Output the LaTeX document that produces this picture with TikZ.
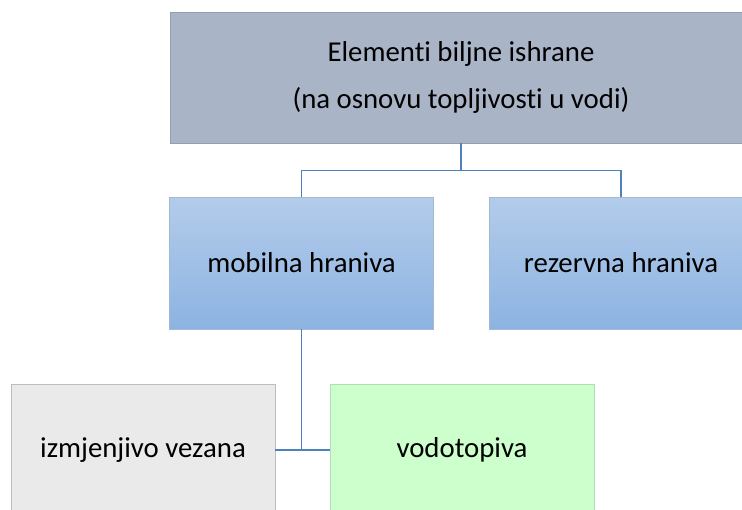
\documentclass[tikz,border=0pt]{standalone}
\usepackage{fontspec}
\setmainfont{Carlito}[RawFeature=-liga]
\usepackage{tikz}
\definecolor{topfill}{HTML}{AAB4C7}
\definecolor{topline}{HTML}{939EB2}
\definecolor{bluetop}{HTML}{B3CCEA}
\definecolor{bluebot}{HTML}{8DB3E2}
\definecolor{blueline}{HTML}{A3B9D3}
\definecolor{grayfill}{HTML}{EAEAEA}
\definecolor{grayline}{HTML}{BDBDBD}
\definecolor{greenfill}{HTML}{CCFFCC}
\definecolor{greenline}{HTML}{B5DDB5}
\definecolor{linkcol}{HTML}{4F81BD}
\tikzset{
 box/.style={minimum width=198pt, minimum height=99pt, inner sep=0pt, align=center,
  font=\fontsize{21.6}{35.5}\selectfont},
 topbox/.style={box, fill=topfill, draw=topline, minimum width=436.5pt, minimum height=98.25pt},
 bluebox/.style={box, top color=bluetop, bottom color=bluebot, draw=blueline},
 graybox/.style={box, fill=grayfill, draw=grayline},
 greenbox/.style={box, fill=greenfill, draw=greenline},
 link/.style={draw=linkcol, line width=1.1pt}
}

\begin{document}
\begin{tikzpicture}[x=0.75pt,y=0.75pt,yscale=-1,xscale=1]
 \useasboundingbox (0,0) rectangle (742,510);
 \clip (0,0) rectangle (742,510);

 \node [topbox] (elem) at (461,77.5) {Elementi biljne ishrane\\(na osnovu topljivosti u vodi)};
 \node [bluebox] (mob) at (301.5,263) {mobilna hraniva};
 \node [bluebox] (rez) at (621,263) {rezervna hraniva};
 \node [graybox] (izm) at (143,450) {izmjenjivo vezana};
 \node [greenbox] (vod) at (462,450) {vodotopiva};

 \draw [link] (elem.south) -- ++(0,27) coordinate (fork) -| (mob.north);
 \draw [link] (fork) -| (rez.north);
 \draw [link] (izm.east) -- (vod.west);
 \draw [link] (mob.south) -- (mob.south |- vod.west);
\end{tikzpicture}
\end{document}
